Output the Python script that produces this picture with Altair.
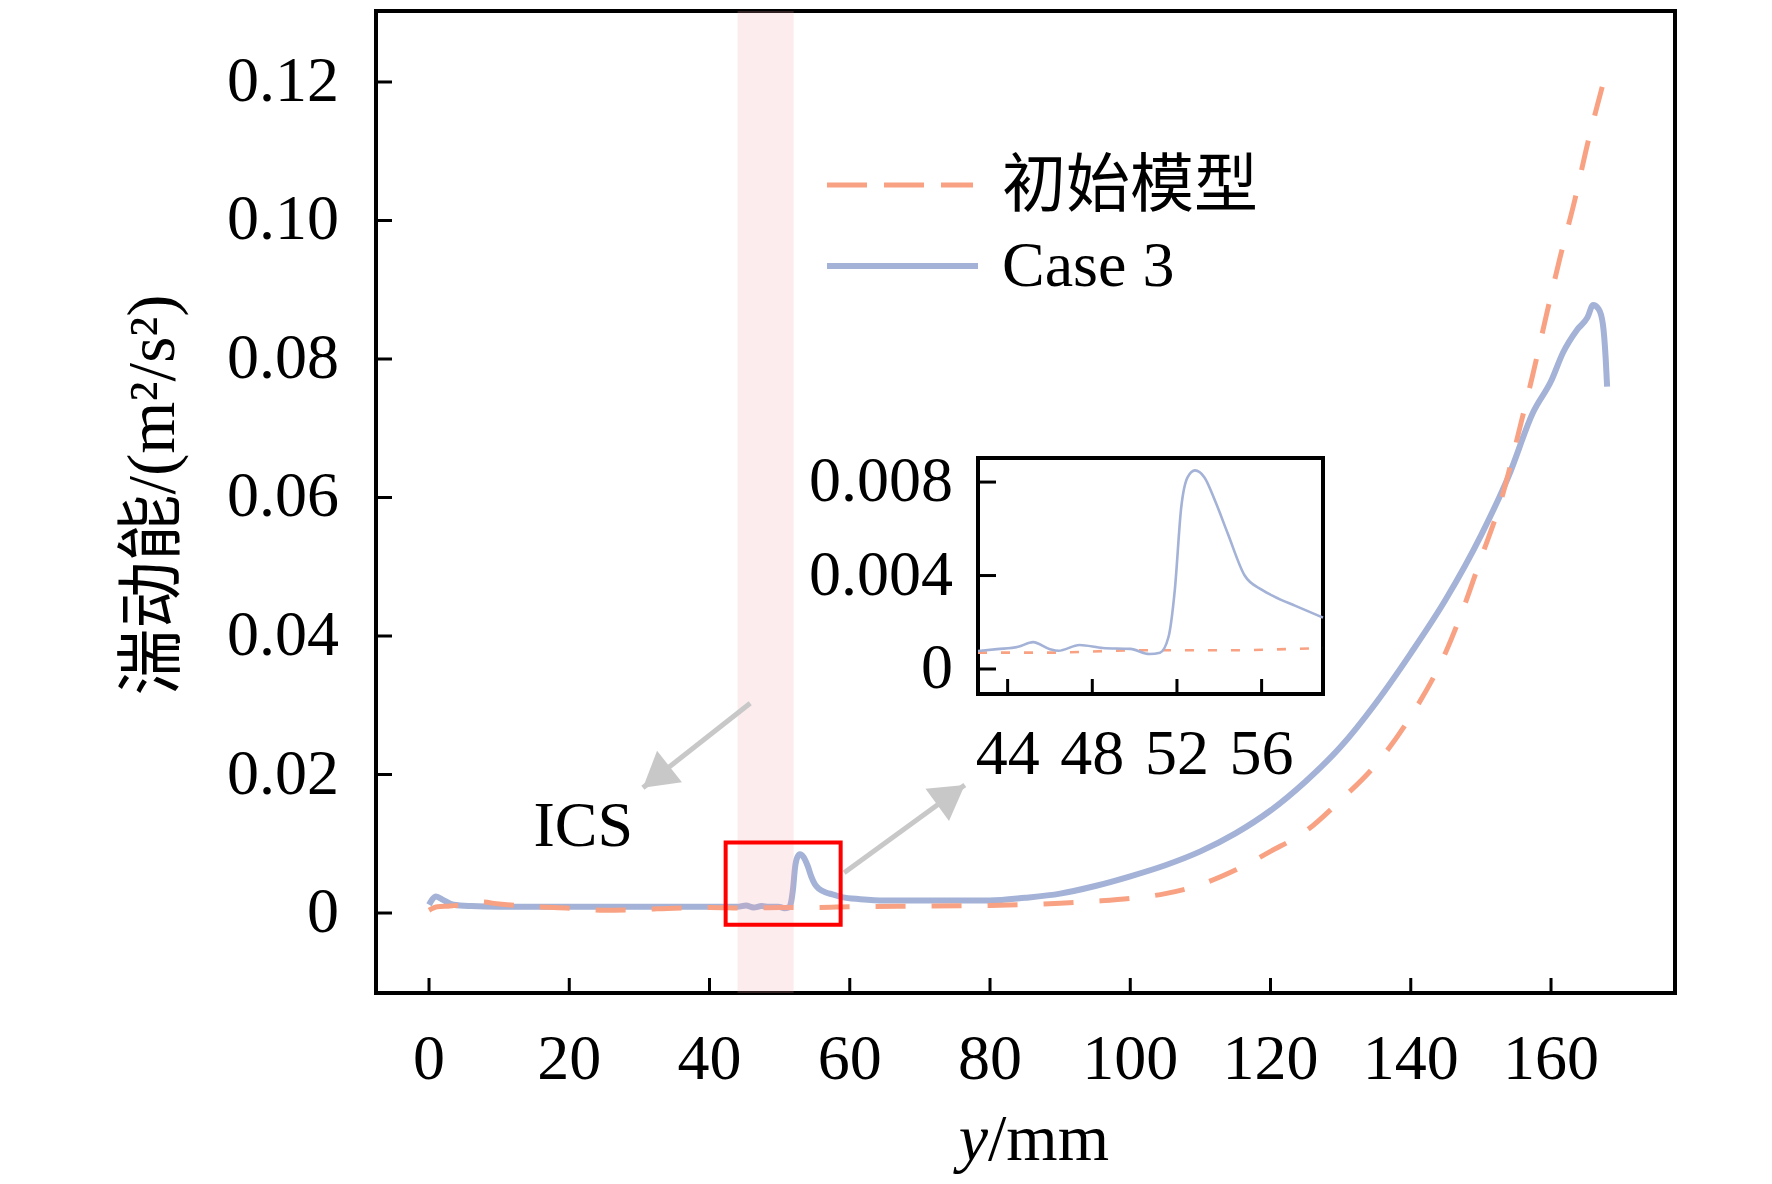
import altair as alt
import pandas as pd

# ---------------- data ----------------
case3_x = [0, 1.0, 2.0, 3.5, 6, 10, 20, 30, 40, 44, 45.2, 46.3, 47.4, 48.5, 49.8,
           50.7, 51.3, 51.6, 51.9, 52.2, 52.5, 52.9, 53.4, 54.0, 54.5, 55.0, 55.6,
           56.5, 57.5, 58.9, 61.5, 65, 70, 75, 80, 85, 90, 95, 100, 105, 110, 115,
           120, 125, 130, 135, 140, 145, 150, 154, 157.4, 160.1, 161.7, 163.7,
           165.2, 166.0, 166.8, 167.4, 167.8, 168.0]
case3_y = [0.0012, 0.0024, 0.0019, 0.0012, 0.0010, 0.0009, 0.0009, 0.0009, 0.0009,
           0.0009, 0.0011, 0.0008, 0.0010, 0.0009, 0.0009, 0.0007, 0.0008, 0.0014,
           0.0034, 0.0066, 0.0080, 0.0085, 0.0081, 0.0068, 0.0053, 0.0042, 0.0035,
           0.0030, 0.0027, 0.0023, 0.0020, 0.0018, 0.0018, 0.0018, 0.0018, 0.0022,
           0.0028, 0.0039, 0.0053, 0.0069, 0.0089, 0.0115, 0.0148, 0.0190, 0.0240,
           0.0303, 0.0375, 0.0453, 0.0545, 0.0632, 0.0722, 0.0770, 0.0809, 0.0842,
           0.0860, 0.0878, 0.0872, 0.0850, 0.0800, 0.0760]

init_x = [0, 1.2, 3, 5, 7.3, 10, 15, 20, 25, 30, 35, 40, 45, 50, 55, 60, 70, 80, 90,
          95, 100, 105, 110, 115, 120, 125, 130, 135, 140, 145, 147.5, 150, 152.7,
          155.9, 157.3, 159.4, 161.3, 163.4, 165.1, 167.3]
init_y = [0.0004, 0.0009, 0.0010, 0.0012, 0.0016, 0.0013, 0.0009, 0.0007, 0.0004,
          0.0005, 0.0007, 0.0008, 0.0007, 0.0008, 0.0008, 0.0009, 0.0010, 0.0011,
          0.0014, 0.0017, 0.0021, 0.0028, 0.0041, 0.0062, 0.0089, 0.0118, 0.0163,
          0.0214, 0.0284, 0.0377, 0.0440, 0.0512, 0.0590, 0.0715, 0.0773, 0.0866,
          0.0947, 0.1030, 0.1106, 0.1193]

# inset (zoom of 42.6 - 58.9 mm)
inset_case3_x = [42.6, 43.5, 44.5, 45.2, 46.0, 46.4, 47.4, 48.5, 49.8, 50.7, 51.2,
                 51.6, 51.9, 52.2, 52.5, 52.85, 53.3, 53.8, 54.4, 55.2, 56.0, 56.6,
                 57.6, 58.9]
inset_case3_y = [0.00077, 0.00085, 0.00095, 0.00115, 0.00085, 0.00078, 0.00103,
                 0.00090, 0.00086, 0.00064, 0.00070, 0.00137, 0.0034, 0.0069,
                 0.0082, 0.0085, 0.0082, 0.0072, 0.0058, 0.0040, 0.0034, 0.0031,
                 0.0027, 0.0022]
inset_init_x = [42.6, 46.0, 50.0, 54.0, 58.9]
inset_init_y = [0.0007, 0.0007, 0.0008, 0.0008, 0.0009]

x_ticks = [0, 20, 40, 60, 80, 100, 120, 140, 160]
x_labels = ["0", "20", "40", "60", "80", "100", "120", "140", "160"]
y_ticks = [0, 0.02, 0.04, 0.06, 0.08, 0.10, 0.12]
y_labels = ["0", "0.02", "0.04", "0.06", "0.08", "0.10", "0.12"]
inset_x_ticks = [44, 48, 52, 56]
inset_x_labels = ["44", "48", "52", "56"]
inset_y_ticks = [0, 0.004, 0.008]
inset_y_labels = ["0", "0.004", "0.008"]

series_names = ["初始模型", "Case 3"]
band_range = [44.0, 52.0]            # ICS region
zoom_box = [42.3, 58.7, -0.0017, 0.0102]
ics_label = ["ICS"]
ics_pos = [22.0, 0.0097]
arrow_from = [[45.8, 0.0303], [59.2, 0.0058]]
arrow_to = [[30.5, 0.0181], [76.4, 0.0185]]
x_title = ["y", "/mm"]
y_title = ["湍动能/(m²/s²)"]

# ---------------- styling ----------------
W, H = 1299, 982
XDOM = [-7.56, 177.68]
YDOM = [-0.01155, 0.13025]
IXDOM = [42.6, 58.9]
IYDOM = [-0.00107, 0.00903]
SERIF = "Liberation Serif"
MIX = "Liberation Serif, Noto Sans CJK SC"
BLUE = "#a3b2d6"
ORANGE = "#f9a283"
GREY = "#c8c8c8"
FS = 64

xs = alt.Scale(domain=XDOM, nice=False, zero=False)
ys = alt.Scale(domain=YDOM, nice=False, zero=False)
ixs = alt.Scale(domain=IXDOM, range=[602, 947], nice=False, zero=False)
iys = alt.Scale(domain=IYDOM, range=[683, 447], nice=False, zero=False)


def X(f, s=xs):
    return alt.X(f, scale=s, axis=None)


def Y(f, s=ys):
    return alt.Y(f, scale=s, axis=None)


df_c3 = pd.DataFrame({"x": case3_x, "y": case3_y})
df_init = pd.DataFrame({"x": init_x, "y": init_y})

blue_line = alt.Chart(df_c3).mark_line(color=BLUE, strokeWidth=6, interpolate="monotone").encode(
    x=X("x:Q"), y=Y("y:Q"))
orange_line = alt.Chart(df_init).mark_line(color=ORANGE, strokeWidth=5, strokeDash=[30, 26],
                                           interpolate="monotone").encode(
    x=X("x:Q"), y=Y("y:Q"))

band = alt.Chart(pd.DataFrame({"a": [band_range[0]], "b": [band_range[1]]})).mark_rect(
    color="#f7a0a8", opacity=0.2).encode(
    x=X("a:Q"), x2="b:Q", y=alt.value(0), y2=alt.value(H))

box = alt.Chart(pd.DataFrame({"a": [zoom_box[0]], "b": [zoom_box[1]],
                              "c": [zoom_box[2]], "d": [zoom_box[3]]})).mark_rect(
    fillOpacity=0, stroke="#ff0000", strokeWidth=4).encode(
    x=X("a:Q"), x2="b:Q", y=Y("c:Q"), y2="d:Q")

arr_df = pd.DataFrame({"x": [p[0] for p in arrow_from], "y": [p[1] for p in arrow_from],
                       "x2": [p[0] for p in arrow_to], "y2": [p[1] for p in arrow_to]})
arrows = alt.Chart(arr_df).mark_rule(color=GREY, strokeWidth=5).encode(
    x=X("x:Q"), y=Y("y:Q"), x2="x2:Q", y2="y2:Q")
HEAD = "M0,0L1,1.7L-1,1.7Z"
head1 = alt.Chart(pd.DataFrame({"x": [arrow_to[0][0]], "y": [arrow_to[0][1]]})).mark_point(
    shape=HEAD, size=1600, filled=True, color=GREY, opacity=1, angle=231.5).encode(
    x=X("x:Q"), y=Y("y:Q"))
head2 = alt.Chart(pd.DataFrame({"x": [arrow_to[1][0]], "y": [arrow_to[1][1]]})).mark_point(
    shape=HEAD, size=1600, filled=True, color=GREY, opacity=1, angle=54).encode(
    x=X("x:Q"), y=Y("y:Q"))

ics = alt.Chart(pd.DataFrame({"t": ics_label, "x": [ics_pos[0]], "y": [ics_pos[1]]})).mark_text(
    font=SERIF, fontSize=FS, align="center", baseline="alphabetic", color="black").encode(
    x=X("x:Q"), y=Y("y:Q"), text="t:N")

# main axes: inward ticks + labels
xt = alt.Chart(pd.DataFrame({"v": x_ticks})).mark_rule(color="black", strokeWidth=3).encode(
    x=X("v:Q"), y=alt.value(H), y2=alt.value(H - 15))
yt = alt.Chart(pd.DataFrame({"v": y_ticks})).mark_rule(color="black", strokeWidth=3).encode(
    y=Y("v:Q"), x=alt.value(0), x2=alt.value(16))
xl = alt.Chart(pd.DataFrame({"v": x_ticks, "t": x_labels})).mark_text(
    font=SERIF, fontSize=FS, align="center", baseline="top", color="black").encode(
    x=X("v:Q"), y=alt.value(H + 35), text="t:N")
yl = alt.Chart(pd.DataFrame({"v": y_ticks, "t": y_labels})).mark_text(
    font=SERIF, fontSize=FS, align="right", baseline="middle", color="black").encode(
    y=Y("v:Q"), x=alt.value(-37), text="t:N")
ytitle = alt.Chart(pd.DataFrame({"t": y_title})).mark_text(
    font=MIX, fontSize=67, align="center", baseline="middle", angle=270, color="black").encode(
    text="t:N", x=alt.value(-222), y=alt.value(484))

# legend (drawn by hand)
leg_df = pd.DataFrame({"t": series_names})
leg_l1 = alt.Chart(leg_df.iloc[:1]).mark_rule(color=ORANGE, strokeWidth=5, strokeDash=[40, 17]).encode(
    x=alt.value(451), x2=alt.value(597), y=alt.value(174))
leg_l2 = alt.Chart(leg_df.iloc[1:]).mark_rule(color=BLUE, strokeWidth=6).encode(
    x=alt.value(451), x2=alt.value(602), y=alt.value(255))
leg_t1 = alt.Chart(leg_df.iloc[:1]).mark_text(font=MIX, fontSize=FS, align="left",
                                              baseline="middle", color="black").encode(
    text="t:N", x=alt.value(626), y=alt.value(176))
leg_t2 = alt.Chart(leg_df.iloc[1:]).mark_text(font=MIX, fontSize=FS, align="left",
                                              baseline="middle", color="black").encode(
    text="t:N", x=alt.value(626), y=alt.value(256))

# x-axis title with italic y
xt1 = alt.Chart(pd.DataFrame({"t": x_title[:1]})).mark_text(
    font=SERIF, fontSize=66, fontStyle="italic", align="right", baseline="alphabetic",
    color="black").encode(text="t:N", x=alt.value(612), y=alt.value(1149))
xt2 = alt.Chart(pd.DataFrame({"t": x_title[1:]})).mark_text(
    font=SERIF, fontSize=66, align="left", baseline="alphabetic",
    color="black").encode(text="t:N", x=alt.value(612), y=alt.value(1149))

main = alt.layer(blue_line, orange_line, band, box, arrows, head1, head2, ics, xt, yt,
                 xl, yl, ytitle, leg_l1, leg_l2, leg_t1, leg_t2, xt1, xt2)

# ---------------- inset ----------------
frame = alt.Chart(pd.DataFrame({"a": [IXDOM[0]], "b": [IXDOM[1]],
                                "c": [IYDOM[0]], "d": [IYDOM[1]]})).mark_rect(
    fill="white", stroke="black", strokeWidth=4).encode(
    x=X("a:Q", ixs), x2="b:Q", y=Y("c:Q", iys), y2="d:Q")
i_blue = alt.Chart(pd.DataFrame({"x": inset_case3_x, "y": inset_case3_y})).mark_line(
    color=BLUE, strokeWidth=2.6, interpolate="monotone").encode(
    x=X("x:Q", ixs), y=Y("y:Q", iys))
i_orange = alt.Chart(pd.DataFrame({"x": inset_init_x, "y": inset_init_y})).mark_line(
    color=ORANGE, strokeWidth=2.6, strokeDash=[9, 14], interpolate="monotone").encode(
    x=X("x:Q", ixs), y=Y("y:Q", iys))
i_xt = alt.Chart(pd.DataFrame({"v": inset_x_ticks})).mark_rule(color="black", strokeWidth=3).encode(
    x=X("v:Q", ixs), y=alt.value(683), y2=alt.value(668))
i_yt = alt.Chart(pd.DataFrame({"v": inset_y_ticks})).mark_rule(color="black", strokeWidth=3).encode(
    y=Y("v:Q", iys), x=alt.value(602), x2=alt.value(620))
i_xl = alt.Chart(pd.DataFrame({"v": inset_x_ticks, "t": inset_x_labels})).mark_text(
    font=SERIF, fontSize=FS, align="center", baseline="top", color="black").encode(
    x=X("v:Q", ixs), y=alt.value(712), text="t:N")
i_yl = alt.Chart(pd.DataFrame({"v": inset_y_ticks, "t": inset_y_labels})).mark_text(
    font=SERIF, fontSize=FS, align="right", baseline="middle", color="black").encode(
    y=Y("v:Q", iys), x=alt.value(577), text="t:N")

inset = alt.layer(frame, i_orange, i_blue, i_xt, i_yt, i_xl, i_yl)

chart = alt.layer(main, inset).resolve_scale(x="independent", y="independent").properties(
    width=W, height=H, autosize=alt.AutoSizeParams(type="none"),
    padding={"left": 368, "top": 3, "right": 80, "bottom": 183},
    background="white",
).configure_view(stroke="black", strokeWidth=4)

chart.save("out.html", embed_options={"renderer": "svg", "actions": False})
